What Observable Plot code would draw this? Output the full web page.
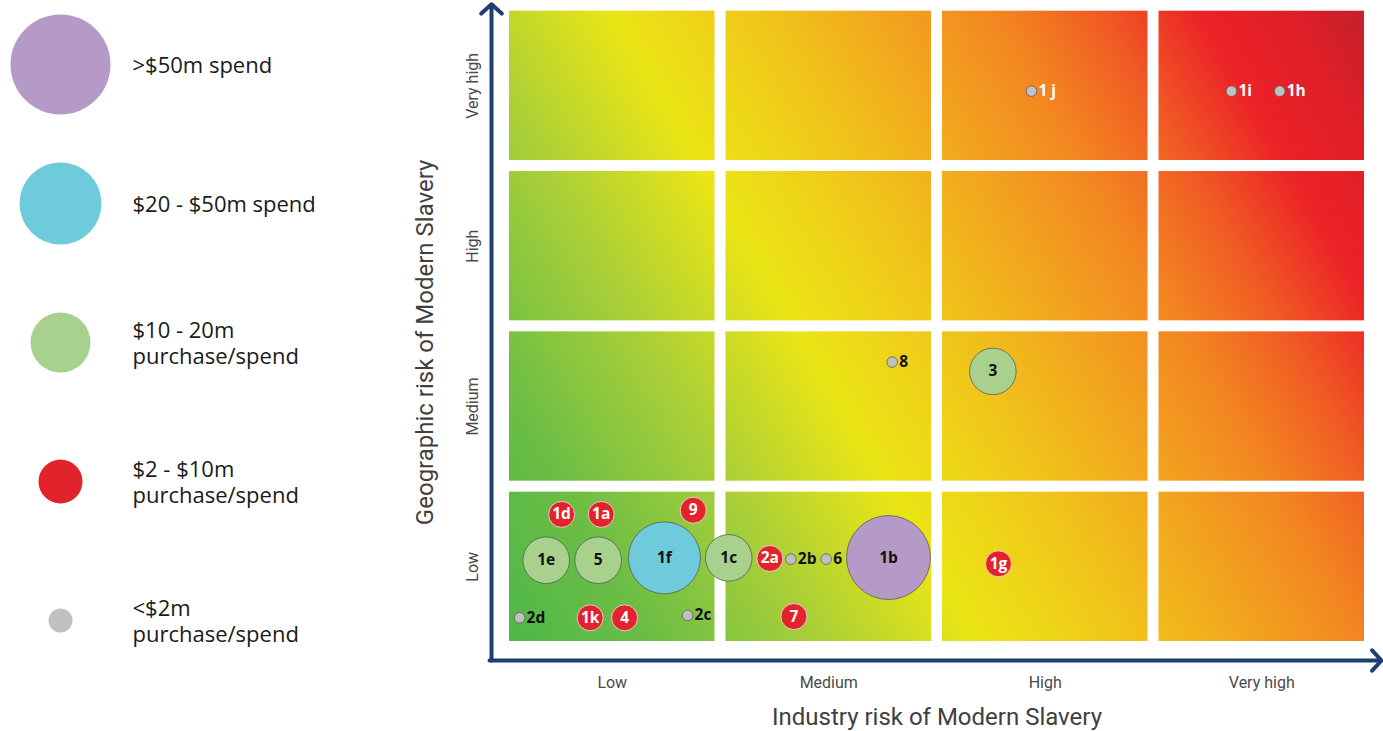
<!DOCTYPE html>
<html>
<head>
<meta charset="utf-8">
<script src="https://cdn.jsdelivr.net/npm/d3@7"></script>
<script src="https://cdn.jsdelivr.net/npm/@observablehq/plot@0.6"></script>
<style>
  html, body { margin: 0; padding: 0; background: #fff; }
  #wrap { display: flex; width: 1383px; height: 731px; overflow: hidden; }
  #wrap svg { flex: none; max-width: none; }
</style>
</head>
<body>
<div id="wrap"></div>
<script>
// ---------- data ----------
const levels = ["Low", "Medium", "High", "Very high"];
const xTitle = "Industry risk of Modern Slavery";
const yTitle = "Geographic risk of Modern Slavery";

const tierLabels = [">$50m spend", "$20 - $50m spend", "$10 - 20m\npurchase/spend", "$2 - $10m\npurchase/spend", "<$2m\npurchase/spend"];
const tierColors = ["#b59ac8", "#6dcbdb", "#a9d18e", "#e2232b", "#c0c0c0"];
const legendRadii = [50, 41, 30, 22, 12];
const pointRadii = [42, 36, 23.3, 13, 5.3];

const pointLabels = ["1 j", "1i", "1h", "8", "3", "1d", "1a", "9", "1e", "5", "1f", "1c", "2a", "2b", "6", "1b", "1g", "2d", "1k", "4", "2c", "7"];
const industryRisk = [2.436, 3.360, 3.583, 1.793, 2.258, 0.266, 0.449, 0.874, 0.195, 0.435, 0.741, 1.038, 1.228, 1.325, 1.488, 1.776, 2.284, 0.072, 0.398, 0.557, 0.848, 1.339];
const geoRisk      = [3.467, 3.467, 3.467, 1.777, 1.719, 0.827, 0.827, 0.853, 0.541, 0.541, 0.556, 0.556, 0.552, 0.548, 0.548, 0.558, 0.519, 0.182, 0.182, 0.182, 0.197, 0.190];
const pointTier    = [4, 4, 4, 4, 2, 3, 3, 3, 2, 2, 1, 2, 3, 4, 4, 0, 3, 4, 3, 3, 4, 3];

// ---------- derived tables ----------
const points = pointLabels.map((label, i) => ({label, x: industryRisk[i], y: geoRisk[i], tier: pointTier[i]}));
const cells = [];
levels.forEach((_, i) => levels.forEach((_, j) => cells.push({i, j})));
const tiers = tierLabels.map((label, i) => ({label, tier: i}));

const axisColor = "#1f3f73";
const labelFont = "'Open Sans', 'Noto Sans', sans-serif";
const axisFont = "'Roboto', 'Liberation Sans', sans-serif";

// ---------- legend ----------
const legend = Plot.plot({
  width: 400, height: 731,
  margin: 0,
  x: {axis: null},
  y: {type: "point", domain: tierLabels, range: [64, 620], padding: 0, axis: null},
  r: {type: "linear", domain: [0, 1, 2, 3, 4], range: legendRadii},
  style: {fontFamily: labelFont, overflow: "visible", background: "transparent"},
  marks: [
    Plot.dot(tiers, {y: "label", r: "tier", fill: d => tierColors[d.tier], frameAnchor: "left", dx: 60, sort: null}),
    Plot.text(tiers, {y: "label", text: "label", frameAnchor: "left", dx: 132, textAnchor: "start",
      fontSize: 22, fill: "#1a1a1a", lineHeight: 1.18})
  ]
});

// ---------- main chart ----------
const main = Plot.plot({
  width: 983, height: 731,
  marginLeft: 103.5, marginRight: 13.5, marginTop: 5.2, marginBottom: 84.5,
  x: {domain: [0, 4], axis: null},
  y: {domain: [0, 4], axis: null},
  r: {type: "linear", domain: [0, 1, 2, 3, 4], range: pointRadii},
  style: {fontFamily: labelFont, overflow: "visible", background: "transparent"},
  marks: [
    Plot.rect(cells, {x1: d => d.i, x2: d => d.i + 1, y1: d => d.j, y2: d => d.j + 1, inset: 5.5, fill: "url(#riskGrad)"}),
    // axis arrows
    Plot.arrow([0], {x1: 0, y1: 0, x2: 0, y2: 4, dx: -12.5, insetStart: -13.5, insetEnd: -1.5,
      stroke: axisColor, strokeWidth: 4, headLength: 5.2, headAngle: 95}),
    Plot.arrow([0], {x1: 0, y1: 0, x2: 4, y2: 0, dy: 13.5, insetStart: -14.5, insetEnd: -11.5,
      stroke: axisColor, strokeWidth: 4, headLength: 5.2, headAngle: 95}),
    // tick labels
    Plot.text(levels, {x: (d, i) => i + 0.5, text: d => d, frameAnchor: "bottom", dy: 40.5,
      fontSize: 16, fill: "#4a4a4a", fontFamily: axisFont}),
    Plot.text(levels, {y: (d, i) => i + 0.5, text: d => d, frameAnchor: "left", textAnchor: "middle", dx: -31.5, rotate: -90,
      fontSize: 16, fill: "#4a4a4a", fontFamily: axisFont}),
    // axis titles
    Plot.text([xTitle], {text: d => d, frameAnchor: "bottom", dy: 78, fontSize: 24, fill: "#404040", fontFamily: axisFont}),
    Plot.text([yTitle], {text: d => d, frameAnchor: "left", textAnchor: "middle", dx: -78.5, dy: 16, rotate: -90,
      fontSize: 24, fill: "#404040", fontFamily: axisFont}),
    // points
    Plot.dot(points, {x: "x", y: "y", r: "tier", fill: d => tierColors[d.tier],
      stroke: d => d.tier === 3 ? "#f3c6c6" : "#5a5a5a", strokeWidth: d => d.tier === 3 ? 1 : 0.8, sort: null}),
    Plot.text(points.filter(d => d.tier < 4), {x: "x", y: "y", text: "label", fontSize: 15.5, fontWeight: "bold",
      fill: d => d.tier === 3 ? "white" : "#111"}),
    Plot.text(points.filter(d => d.tier === 4), {x: "x", y: "y", text: "label", dx: 7, textAnchor: "start",
      fontSize: 15.5, fontWeight: "bold", fill: d => d.y > 3 ? "white" : "#111"})
  ]
});

// gradient across the whole grid (green bottom-left -> red top-right)
{
  const sx = main.scale("x"), sy = main.scale("y");
  const bx = sx.apply(0), by = sy.apply(0), tx = sx.apply(4), ty = sy.apply(4);
  const dir = [567, -330];
  const k = ((tx - bx) * dir[0] + (ty - by) * dir[1]) / (dir[0] ** 2 + dir[1] ** 2);
  const defs = d3.select(main).insert("defs", ":first-child");
  const g = defs.append("linearGradient").attr("id", "riskGrad").attr("gradientUnits", "userSpaceOnUse")
    .attr("x1", bx).attr("y1", by).attr("x2", bx + dir[0] * k).attr("y2", by + dir[1] * k);
  const stops = [
    [0.00, "#4cb748"], [0.12, "#6abd45"], [0.25, "#a6ce39"], [0.385, "#ebe515"],
    [0.50, "#f0c71a"], [0.62, "#f2a01f"], [0.70, "#f38421"], [0.78, "#f05a24"],
    [0.86, "#ec2227"], [0.93, "#e01f27"], [1.00, "#c0202b"]
  ];
  stops.forEach(([o, c]) => g.append("stop").attr("offset", o).attr("stop-color", c));
}

document.getElementById("wrap").append(legend, main);
</script>
</body>
</html>
